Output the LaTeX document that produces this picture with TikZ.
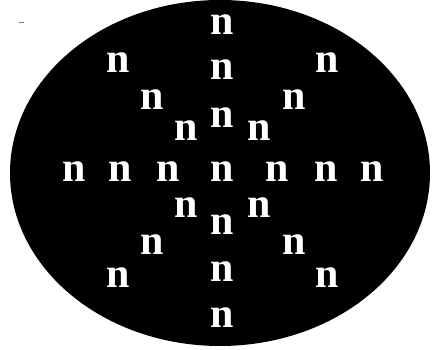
\documentclass[tikz,border=0pt]{standalone}
\usepackage{fontspec}
\setmainfont{Liberation Serif}

\tikzset{
  letter/.style={text=white, inner sep=0pt, font=\fontsize{42}{42}\selectfont\bfseries}
}

\begin{document}
\begin{tikzpicture}[x=1pt, y=1pt]

        % --- Рамка ---
        \useasboundingbox (0,0) rectangle (432,350);

        % --- Эллипс ---
        \fill[black] (220,177) ellipse (210 and 173);
        \draw[gray, line width=1pt] (19,327) -- (24,327);

        % --- Вертикаль ---
        \node[letter] (v1) at (222,325) {n};
        \node[letter] (v2) at (222,280) {n};
        \node[letter] (v3) at (222,232) {n};
        \node[letter] (v4) at (222,125) {n};
        \node[letter] (v5) at (222,78) {n};
        \node[letter] (v6) at (222,32) {n};

        % --- Горизонталь ---
        \node[letter] (h1) at (74,178) {n};
        \node[letter] (h2) at (120,178) {n};
        \node[letter] (h3) at (168,178) {n};
        \node[letter] (c)  at (222,178) {n};
        \node[letter] (h5) at (277,178) {n};
        \node[letter] (h6) at (326,178) {n};
        \node[letter] (h7) at (372,178) {n};

        % --- Диагонали ---
        \node[letter] (a1) at (118,287) {n};
        \node[letter] (a2) at (152,250) {n};
        \node[letter] (a3) at (186,219) {n};
        \node[letter] (b1) at (327,287) {n};
        \node[letter] (b2) at (294,250) {n};
        \node[letter] (b3) at (259,219) {n};
        \node[letter] (a4) at (186,142) {n};
        \node[letter] (a5) at (152,105) {n};
        \node[letter] (a6) at (118,72) {n};
        \node[letter] (b4) at (259,142) {n};
        \node[letter] (b5) at (294,105) {n};
        \node[letter] (b6) at (327,72) {n};

    \end{tikzpicture}
\end{document}
